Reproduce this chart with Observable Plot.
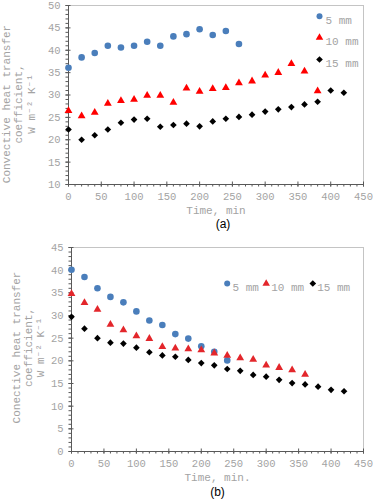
<!DOCTYPE html>
<html>
<head>
<meta charset="utf-8">
<script src="https://cdn.jsdelivr.net/npm/d3@7"></script>
<script src="https://cdn.jsdelivr.net/npm/@observablehq/plot@0.6"></script>
<style>
  html, body { margin: 0; padding: 0; background: #fff; }
  svg { display: block; }
</style>
</head>
<body>
<script>
// ---- Data: chart (a) ----
const time5a  = [0,20,40,60,80,100,120,140,160,180,200,220,240,260];
const h5a     = [36.1,38.4,39.4,41.0,40.6,41.0,41.9,41.0,43.1,43.6,44.7,43.4,44.3,41.4];
const time10a = [0,20,40,60,80,100,120,140,160,180,200,220,240,260,280,300,320,340,360,380];
const h10a    = [26.5,25.3,26.1,28.1,28.7,29.0,29.9,29.9,28.3,31.5,30.8,31.4,31.6,32.7,33.1,34.4,35.0,37.0,35.3,30.9];
const time15a = [0,20,40,60,80,100,120,140,160,180,200,220,240,260,280,300,320,340,360,380,400,420];
const h15a    = [22.3,20.0,21.0,22.3,23.8,24.5,24.7,22.9,23.3,23.6,23.0,24.1,24.7,25.1,25.6,26.3,26.8,27.3,27.9,28.5,31.0,30.5];

// ---- Data: chart (b) ----
const time5b  = [0,20,40,60,80,100,120,140,160,180,200,220,240];
const h5b     = [40.1,38.5,36.0,34.1,32.9,30.9,28.9,27.9,25.9,24.9,23.2,22.0,20.1];
const time10b = [0,20,40,60,80,100,120,140,160,180,200,220,240,260,280,300,320,340,360];
const h10b    = [34.8,32.8,31.3,28.0,26.8,25.5,24.9,23.1,22.8,22.6,22.4,21.7,21.2,20.6,20.3,19.0,18.5,18.0,17.0];
const time15b = [0,20,40,60,80,100,120,140,160,180,200,220,240,260,280,300,320,340,360,380,400,420];
const h15b    = [29.7,27.1,25.0,24.0,23.8,22.9,21.9,21.2,20.9,20.2,19.5,19.0,18.2,17.8,16.9,16.5,15.8,15.1,14.8,14.3,13.6,13.3];

// ---- Labels / ticks ----
const seriesNames = ["5 mm", "10 mm", "15 mm"];
const xTicks = [0,50,100,150,200,250,300,350,400,450];
const xMinor = [0,10,20,30,40,50,60,70,80,90,100,110,120,130,140,150,160,170,180,190,200,210,220,230,240,250,260,270,280,290,300,310,320,330,340,350,360,370,380,390,400,410,420,430,440,450];
const yTicksA = [10,15,20,25,30,35,40,45,50];
const yTicksB = [0,5,10,15,20,25,30,35,40,45];
const yTitleA = "Convective heat transfer\ncoefficient,\nW m\u207B\u00B2 K\u207B\u00B9";
const yTitleB = "Conective heat transfer\ncoefficient,\nW m\u207B\u00B2 K\u207B\u00B9";
const xTitleA = "Time, min";
const xTitleB = "Time, min.";

const rows = (ts, hs) => ts.map((t, i) => ({t, h: hs[i]}));

const GRAY = "#a3a3a3";
const AXIS = "#595959";
const MONO = "'Liberation Mono', 'DejaVu Sans Mono', monospace";
const BLUE = "#4a7ebb";

function axes(yTicks, yMinor) {
  return [
    Plot.frame({stroke: "#c4c4c4"}),
    Plot.axisY(yTicks, {tickSize: 0, tickPadding: 8, label: null, fill: GRAY, fontSize: 10.5}),
    Plot.axisY(yTicks, {tickSize: 5, dx: 2.5, tickFormat: () => "", label: null, stroke: AXIS}),
    Plot.axisY(yMinor, {tickSize: 2.5, tickFormat: () => "", label: null, stroke: AXIS}),
    Plot.axisX(xTicks, {tickSize: 0, tickPadding: 8, label: null, fill: GRAY, fontSize: 10.5}),
    Plot.axisX(xTicks, {tickSize: 5, dy: -2.5, tickFormat: () => "", label: null, stroke: AXIS}),
    Plot.axisX(xMinor, {tickSize: 2.5, tickFormat: () => "", label: null, stroke: AXIS})
  ];
}

// ---------- Chart (a) ----------
const chartA = Plot.plot({
  width: 373,
  height: 240,
  marginTop: 5,
  marginBottom: 56,
  marginLeft: 68,
  marginRight: 10,
  style: {fontFamily: MONO, fontSize: "10.5px", background: "#fff", overflow: "visible"},
  x: {domain: [0, 450]},
  y: {domain: [10, 50]},
  marks: [
    ...axes(yTicksA, d3.range(10, 51, 1)),
    Plot.ruleX([0], {stroke: AXIS}),
    Plot.ruleY([10], {stroke: AXIS}),
    Plot.dot(rows(time5a, h5a), {x: "t", y: "h", symbol: "circle", r: 3.3, fill: BLUE}),
    Plot.dot(rows(time10a, h10a), {x: "t", y: "h", symbol: "triangle", r: 2.9, fill: "#ff0000"}),
    Plot.dot(rows(time15a, h15a), {x: "t", y: "h", symbol: "diamond2", r: 3, fill: "#000"}),
    // legend (vertical, inside plot)
    Plot.dot([seriesNames[0]], {frameAnchor: "top-right", dx: -44, dy: 10.7, symbol: "circle", r: 3, fill: BLUE}),
    Plot.dot([seriesNames[1]], {frameAnchor: "top-right", dx: -44, dy: 32, symbol: "triangle", r: 2.8, fill: "#ff0000"}),
    Plot.dot([seriesNames[2]], {frameAnchor: "top-right", dx: -44, dy: 54, symbol: "diamond2", r: 3, fill: "#000"}),
    Plot.text([seriesNames[0]], {text: d => d, frameAnchor: "top-right", dx: -38, dy: 10.7, textAnchor: "start", fill: GRAY, fontSize: 11}),
    Plot.text([seriesNames[1]], {text: d => d, frameAnchor: "top-right", dx: -38, dy: 32, textAnchor: "start", fill: GRAY, fontSize: 11}),
    Plot.text([seriesNames[2]], {text: d => d, frameAnchor: "top-right", dx: -38, dy: 54, textAnchor: "start", fill: GRAY, fontSize: 11}),
    // titles
    Plot.text([yTitleA], {text: d => d, frameAnchor: "left", textAnchor: "middle", lineAnchor: "middle", rotate: -90, dx: -50, dy: 9, lineHeight: 1.12, fill: GRAY, fontSize: 11}),
    Plot.text([xTitleA], {text: d => d, frameAnchor: "bottom", textAnchor: "middle", dy: 29, fill: GRAY, fontSize: 11}),
    Plot.text(["(a)"], {text: d => d, frameAnchor: "bottom", textAnchor: "middle", dx: 7, dy: 43, fill: "#000", fontSize: 12, fontFamily: "'Liberation Sans', Arial, sans-serif"})
  ]
});

// ---------- Chart (b) ----------
const chartB = Plot.plot({
  width: 373,
  height: 262,
  marginTop: 7,
  marginBottom: 51,
  marginLeft: 71,
  marginRight: 10,
  style: {fontFamily: MONO, fontSize: "10.5px", background: "#fff", overflow: "visible"},
  x: {domain: [0, 450]},
  y: {domain: [0, 45]},
  marks: [
    ...axes(yTicksB, d3.range(0, 46, 1)),
    Plot.ruleX([0], {stroke: AXIS}),
    Plot.ruleY([0], {stroke: AXIS}),
    Plot.dot(rows(time5b, h5b), {x: "t", y: "h", symbol: "circle", r: 3.3, fill: BLUE}),
    Plot.dot(rows(time10b, h10b), {x: "t", y: "h", symbol: "triangle", r: 2.9, fill: "#e3262b"}),
    Plot.dot(rows(time15b, h15b), {x: "t", y: "h", symbol: "diamond2", r: 3, fill: "#000"}),
    // legend (horizontal, inside plot)
    Plot.dot([seriesNames[0]], {frameAnchor: "top-right", dx: -136.3, dy: 36, symbol: "circle", r: 3, fill: BLUE}),
    Plot.dot([seriesNames[1]], {frameAnchor: "top-right", dx: -97.3, dy: 36, symbol: "triangle", r: 2.8, fill: "#e3262b"}),
    Plot.dot([seriesNames[2]], {frameAnchor: "top-right", dx: -50.7, dy: 36, symbol: "diamond2", r: 3, fill: "#000"}),
    Plot.text([seriesNames[0]], {text: d => d, frameAnchor: "top-right", dx: -131, dy: 36, textAnchor: "start", fill: GRAY, fontSize: 11}),
    Plot.text([seriesNames[1]], {text: d => d, frameAnchor: "top-right", dx: -92.3, dy: 36, textAnchor: "start", fill: GRAY, fontSize: 11}),
    Plot.text([seriesNames[2]], {text: d => d, frameAnchor: "top-right", dx: -46.3, dy: 36, textAnchor: "start", fill: GRAY, fontSize: 11}),
    // titles
    Plot.text([yTitleB], {text: d => d, frameAnchor: "left", textAnchor: "middle", lineAnchor: "middle", rotate: -90, dx: -43, dy: -2, lineHeight: 1.1, fill: GRAY, fontSize: 11}),
    Plot.text([xTitleB], {text: d => d, frameAnchor: "bottom", textAnchor: "middle", dy: 29, fill: GRAY, fontSize: 11}),
    Plot.text(["(b)"], {text: d => d, frameAnchor: "bottom", textAnchor: "middle", dx: 0, dy: 44, fill: "#000", fontSize: 12, fontFamily: "'Liberation Sans', Arial, sans-serif"})
  ]
});

document.body.appendChild(chartA);
document.body.appendChild(chartB);
</script>
</body>
</html>
